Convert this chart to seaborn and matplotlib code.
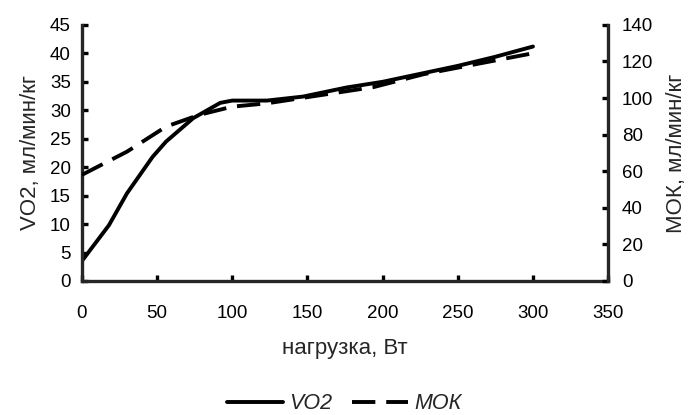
import matplotlib
matplotlib.use("Agg")
import matplotlib.pyplot as plt
import pandas as pd
import seaborn as sns

# VO2 curve (load in W, ml/min/kg on the left axis)
vo2_load = [0, 18, 30, 47, 56, 74, 92, 100, 123, 147, 176, 200, 250, 275, 300]
vo2 = [3.5, 9.8, 15.4, 21.8, 24.5, 28.6, 31.3, 31.7, 31.7, 32.4, 34.0, 35.0, 37.8, 39.4, 41.2]
# MOK curve (right axis)
mok_load = [0, 30, 56, 78, 100, 123, 150, 194, 227, 265, 300]
mok = [58, 70.7, 84.4, 90.8, 95.3, 97.1, 100.5, 106, 113, 119, 124.5]

df_vo2 = pd.DataFrame({'load': vo2_load, 'val': vo2})
df_mok = pd.DataFrame({'load': mok_load, 'val': mok})

sns.set_style("ticks")
plt.rcParams['font.family'] = ['Liberation Sans', 'DejaVu Sans']
tick_fs = 13.5
lab_fs = 16

fig = plt.figure(figsize=(6.88, 4.15), dpi=100)
ax = fig.add_axes([0.119, 0.323, 0.765, 0.617])
ax2 = ax.twinx()

lw = 2.8
sns.lineplot(data=df_vo2, x='load', y='val', ax=ax, color='black', lw=lw, legend=False)
sns.lineplot(data=df_mok, x='load', y='val', ax=ax2, color='black', lw=lw, legend=False)
ax.lines[0].set_solid_joinstyle('round')
ax2.lines[0].set_dashes([6, 2.8])

ax.set_xlim(0, 350)
ax.set_ylim(0, 45)
ax2.set_ylim(0, 140)
ax.set_xticks(range(0, 351, 50))
ax.set_yticks(range(0, 46, 5))
ax2.set_yticks(range(0, 141, 20))

ax.set_xlabel('нагрузка, Вт', labelpad=12, fontsize=lab_fs)
ax.set_ylabel('VO2, мл/мин/кг', labelpad=6, fontsize=lab_fs)
ax2.set_ylabel('МОК, мл/мин/кг', labelpad=9, fontsize=lab_fs)

for a in (ax, ax2):
    a.spines['top'].set_visible(False)
    for s in ('left', 'right', 'bottom'):
        a.spines[s].set_linewidth(2.4)
    a.tick_params(direction='in', length=4, width=2.4, colors='black', labelsize=tick_fs)
ax.spines['right'].set_visible(False)
ax2.spines['left'].set_visible(False)
ax2.spines['bottom'].set_visible(False)
ax.tick_params(axis='y', pad=8)
ax.tick_params(axis='x', pad=17)
ax2.tick_params(axis='y', pad=10)

handles = ax.lines[:1] + ax2.lines[:1]
fig.legend(handles, ['VO2', 'МОК'], loc='lower center', bbox_to_anchor=(0.5, -0.045),
           ncol=2, frameon=False, handlelength=2.6, handletextpad=0.3, columnspacing=0.9,
           prop={'style': 'italic', 'size': 15.5})

fig.savefig('out.png', dpi=100)
